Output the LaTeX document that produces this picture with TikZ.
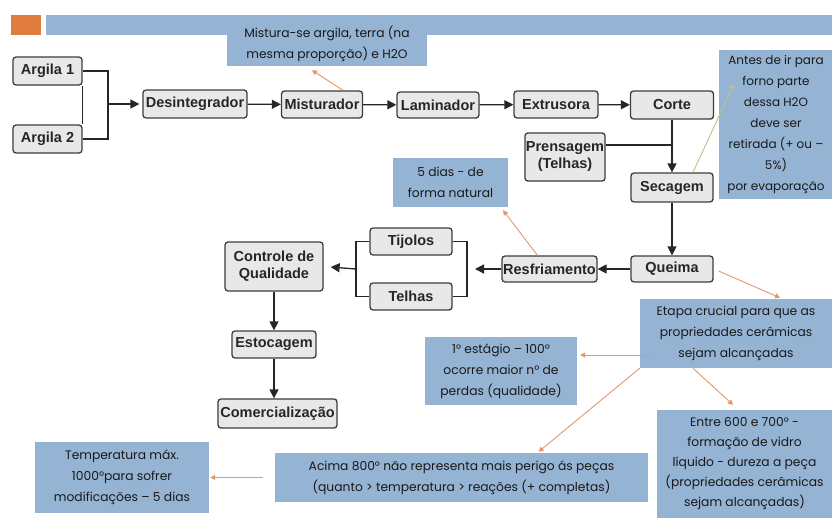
\documentclass[tikz,border=0pt]{standalone}
\usepackage{fontspec}
\setmainfont{Liberation Sans}
\newfontfamily\callfont{Poppins}
\usetikzlibrary{arrows.meta}
\definecolor{cblue}{RGB}{149,180,212}
\definecolor{corange}{RGB}{224,124,62}
\definecolor{carrow}{RGB}{226,150,105}
\definecolor{ctan}{RGB}{196,190,130}
\definecolor{cbox}{RGB}{232,232,232}
\definecolor{cborder}{RGB}{60,60,60}
\begin{document}
\begin{tikzpicture}[x=1pt,y=-1pt,
 pbox/.style={draw=cborder, line width=1.3pt, fill=cbox, rounded corners=3pt, inner sep=1pt,
   font=\fontsize{14.5}{17}\selectfont\bfseries, align=center, text=black!85},
 call/.style={fill=cblue, inner sep=2pt, align=center, font=\callfont\fontsize{12.3}{21}\selectfont, text=black!90},
 flow/.style={line width=1.3pt, draw=black!85, -{Triangle[length=9pt,width=9pt]}},
 link/.style={line width=1.3pt, draw=black!85},
 note/.style={draw=carrow, line width=0.9pt, -{Triangle[length=5pt,width=5pt]}},
 notetan/.style={draw=ctan, line width=0.9pt, -{Triangle[length=5pt,width=5pt]}}
]
\useasboundingbox (0,0) rectangle (832,522);
\fill[corange] (11,15) rectangle (41,35);
\fill[cblue] (46,15) rectangle (832,35);

% callouts
\node[call, minimum width=200pt, minimum height=44pt] (cM) at (327,44) {Mistura-se argila, terra (na\\mesma proporção) e H2O};
\node[call, minimum width=114pt, minimum height=149pt, font=\callfont\fontsize{12}{21}\selectfont] (cA) at (776,124.5) {Antes de ir para\\forno parte\\dessa  H2O\\deve ser\\retirada (+ ou –\\5\%)\\por evaporação};
\node[call, minimum width=115pt, minimum height=49pt] (c5) at (450.5,182.5) {5 dias - de\\forma natural};
\node[call, minimum width=192pt, minimum height=69pt] (cE) at (736,333.5) {Etapa crucial para que as\\propriedades cerâmicas\\sejam alcançadas};
\node[call, minimum width=152pt, minimum height=68pt] (c1) at (501,371) {1° estágio – 100°\\ocorre maior n° de\\perdas (qualidade)};
\node[call, minimum width=175pt, minimum height=108pt, font=\callfont\fontsize{12.3}{20}\selectfont] (cEn) at (744.5,464) {Entre 600 e 700° -\\formação de vidro\\líquido - dureza a peça\\(propriedades cerâmicas\\sejam alcançadas)};
\node[call, minimum width=373pt, minimum height=49pt] (cAc) at (461.5,477.5) {Acima 800° não representa mais perigo ás peças\\(quanto > temperatura > reações (+ completas)};
\node[call, minimum width=174pt, minimum height=71pt] (cT) at (122,477.5) {Temperatura máx.\\1000°para sofrer\\modificações – 5 dias};

% process boxes
\node[pbox, minimum width=69pt, minimum height=28pt] (a1) at (47.5,71) {Argila 1};
\node[pbox, minimum width=69pt, minimum height=28pt] (a2) at (47.5,139) {Argila 2};
\node[pbox, minimum width=104pt, minimum height=28pt] (des) at (195,104) {Desintegrador};
\node[pbox, minimum width=81pt, minimum height=27pt] (mis) at (322,104.5) {Misturador};
\node[pbox, minimum width=82pt, minimum height=26pt] (lam) at (438,105) {Laminador};
\node[pbox, minimum width=84pt, minimum height=27pt] (ext) at (556,104.5) {Extrusora};
\node[pbox, minimum width=83pt, minimum height=28pt] (cor) at (672,105) {Corte};
\node[pbox, minimum width=74pt, minimum height=48pt] (pre) at (565,157) {Prensagem\\(Telhas)};
\node[pbox, minimum width=82pt, minimum height=29pt] (sec) at (672,187.5) {Secagem};
\node[pbox, minimum width=82pt, minimum height=26pt] (que) at (672,269) {Queima};
\node[pbox, minimum width=95pt, minimum height=26pt] (res) at (549.5,269) {Resfriamento};
\node[pbox, minimum width=82pt, minimum height=27pt] (tij) at (411,241.5) {Tijolos};
\node[pbox, minimum width=82pt, minimum height=27pt] (tel) at (411,296.5) {Telhas};
\node[pbox, minimum width=98pt, minimum height=49pt] (cq) at (274,266.5) {Controle de\\Qualidade};
\node[pbox, minimum width=84pt, minimum height=27pt] (est) at (274,344.5) {Estocagem};
\node[pbox, minimum width=119pt, minimum height=29pt] (com) at (277.5,413.5) {Comercialização};

\coordinate (b1) at (108,104);
\coordinate (j1) at (672,145);
\coordinate (b2) at (467,269);
\coordinate (b3) at (356,269);

% connectors
\draw[link] (a1.east) -| (b1) |- (a2.east);
\draw[link] (a1.south east) -- (a2.north east);
\draw[flow, shorten >=3pt] (b1) -- (des.west);
\draw[flow] (des) -- (mis);
\draw[flow] (mis) -- (lam);
\draw[flow] (lam) -- (ext);
\draw[flow] (ext) -- (cor);
\draw[flow] (cor) -- (sec);
\draw[link] (pre.east |- j1) -- (j1);
\draw[flow] (sec) -- (que);
\draw[flow] (que) -- (res);
\draw[flow, shorten >=8pt] (res.west) -- (b2);
\draw[link] (tij.east) -| (b2) |- (tel.east);
\draw[link] (tij.west) -| (b3) |- (tel.west);
\draw[flow, shorten >=7pt] (b3) -- (cq.east);
\draw[flow] (cq) -- (est);
\draw[flow] (est.south) -- (est.south |- com.north);

% note arrows
\draw[note] ([xshift=21pt]mis.north) -- ([xshift=-15pt,yshift=-4pt]cM.south);
\draw[notetan] ([xshift=21pt]sec.north) -- ([xshift=15pt,yshift=40.5pt]cA.west);
\draw[note] ([xshift=-12pt]res.north) -- ([xshift=52.5pt,yshift=-3pt]c5.south);
\draw[note] ([xshift=5pt,yshift=-2pt]que.east) -- ([xshift=44pt,yshift=1pt]cE.north);
\draw[note] ([xshift=10pt,yshift=-21.5pt]cE.west) -- ([xshift=3pt,yshift=16pt]c1.east);
\draw[note] (cE.south west) -- ([xshift=77pt,yshift=1pt]cAc.north);
\draw[note] ([xshift=-43pt]cE.south) -- ([xshift=-11.5pt,yshift=5pt]cEn.north);
\draw[note] ([xshift=-12pt]cAc.west) -- ([xshift=1pt]cT.east);
\end{tikzpicture}
\end{document}
